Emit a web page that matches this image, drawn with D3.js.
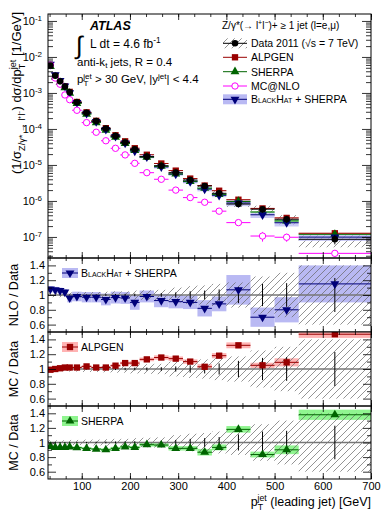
<!DOCTYPE html>
<html>
<head>
<meta charset="utf-8">
<script src="https://cdn.jsdelivr.net/npm/d3@7"></script>
<style>
  body { margin: 0; background: #fff; }
  text { font-family: "Liberation Sans", Arial, Helvetica, sans-serif; }
</style>
</head>
<body>
<svg id="chart" width="390" height="520"></svg>
<script>
// bin edges of leading jet pT [GeV]
var binEdges = [30, 40, 50, 60, 70, 80, 100, 120, 140, 160, 180, 200, 220, 250, 280, 310, 340, 370, 400, 450, 500, 550, 700];

// measured (1/sigma) dsigma/dpT [1/GeV]
var dataXsec = [5.8e-3, 3.0e-3, 2.1e-3, 1.5e-3, 1.05e-3, 5.5e-4, 2.8e-4, 1.65e-4, 1.03e-4, 6.4e-5, 4.2e-5,
                2.7e-5, 1.7e-5, 9.5e-6, 6.1e-6, 3.8e-6, 2.6e-6, 1.63e-6, 8.2e-7, 5.9e-7, 3.1e-7, 8.6e-8];
// relative stat / syst uncertainties of data
var dataStat = [0.005, 0.005, 0.006, 0.006, 0.007, 0.007, 0.008, 0.01, 0.012, 0.014, 0.016,
                0.018, 0.02, 0.025, 0.035, 0.05, 0.06, 0.075, 0.11, 0.15, 0.16, 0.23];
var dataSyst = [0.03, 0.03, 0.03, 0.03, 0.035, 0.035, 0.04, 0.04, 0.045, 0.05, 0.05,
                0.06, 0.065, 0.07, 0.1, 0.12, 0.13, 0.15, 0.17, 0.25, 0.3, 0.4];

// theory / data ratios and their relative uncertainties
var alpgenRatio = [0.99, 1.0, 1.01, 1.02, 1.02, 1.02, 1.035, 1.02, 1.02, 1.045, 1.08,
                   1.08, 1.13, 1.155, 1.14, 1.10, 1.03, 1.18, 1.32, 1.05, 1.09, 1.47];
var alpgenErr = [0.015, 0.015, 0.015, 0.015, 0.015, 0.015, 0.015, 0.015, 0.02, 0.02, 0.02,
                 0.025, 0.025, 0.03, 0.03, 0.03, 0.035, 0.035, 0.04, 0.035, 0.055, 0.05];
var sherpaRatio = [0.947, 0.933, 0.933, 0.933, 0.94, 0.93, 0.92, 0.91, 0.90, 0.92, 0.94,
                   0.933, 0.97, 0.965, 0.92, 0.92, 0.867, 0.933, 1.18, 0.835, 0.90, 1.38];
var sherpaErr = [0.015, 0.015, 0.015, 0.015, 0.015, 0.015, 0.015, 0.015, 0.02, 0.02, 0.02,
                 0.02, 0.025, 0.025, 0.03, 0.03, 0.045, 0.04, 0.045, 0.04, 0.06, 0.07];
var blackhatRatio = [1.08, 1.07, 1.06, 1.04, 0.96, 0.98, 0.97, 0.97, 0.94, 0.965, 0.96,
                     0.90, 0.98, 0.925, 0.91, 0.90, 0.82, 0.88, 1.07, 0.70, 0.80, 1.15];
var blackhatErr = [0.04, 0.04, 0.04, 0.04, 0.06, 0.065, 0.07, 0.07, 0.08, 0.08, 0.08,
                   0.1, 0.08, 0.09, 0.09, 0.09, 0.11, 0.1, 0.2, 0.13, 0.17, 0.25];

// MC@NLO is only shown in the top panel
var mcnloXsec = [6.0e-3, 2.6e-3, 1.75e-3, 8.8e-4, 6.5e-4, 3.3e-4, 1.5e-4, 8.1e-5, 4.7e-5, 2.9e-5, 1.9e-5,
                 1.11e-5, 6.1e-6, 4.0e-6, 2.0e-6, 1.24e-6, 9.2e-7, 5.2e-7, 2.5e-7, 1.06e-7, 9.8e-8, 3.5e-8];
var mcnloErr = [0.01, 0.01, 0.01, 0.01, 0.01, 0.015, 0.02, 0.02, 0.03, 0.03, 0.04,
                0.04, 0.05, 0.06, 0.07, 0.08, 0.1, 0.1, 0.12, 0.3, 0.25, 0.2];

// tick labels
var xTickLabels = [100, 200, 300, 400, 500, 600, 700];
var logTickLabels = [1e-7, 1e-6, 1e-5, 1e-4, 1e-3, 1e-2, 1e-1];
var ratioTickLabels = [0.6, 0.8, 1, 1.2, 1.4];

var FONT = '"Liberation Sans", Arial, Helvetica, sans-serif';
var svg = d3.select("#chart");
svg.append("rect").attr("width", 390).attr("height", 520).attr("fill", "#fff");
var defs = svg.append("defs");

// hatch for the data uncertainty
var hatch = defs.append("pattern").attr("id", "hatch")
    .attr("patternUnits", "userSpaceOnUse").attr("width", 7).attr("height", 7);
hatch.append("path").attr("d", "M-1,8 L8,-1 M-1,1 L1,-1 M6,8 L8,6")
    .attr("stroke", "#666").attr("stroke-width", 0.7);

var x = d3.scaleLinear().domain([30, 700]).range([48, 371]);
var yTop = d3.scaleLog().domain([2.6e-8, 0.156]).range([258, 14]);

var bins = dataXsec.map(function(v, i) {
  return { i: i, lo: binEdges[i], hi: binEdges[i + 1], c: (binEdges[i] + binEdges[i + 1]) / 2, v: v };
});

var models = {
  blackhat: { ratio: blackhatRatio, err: blackhatErr, color: "#00007a", band: "#b9b9f3", sym: "down" },
  sherpa:   { ratio: sherpaRatio,   err: sherpaErr,   color: "#006400", band: "#90f590", sym: "up" },
  alpgen:   { ratio: alpgenRatio,   err: alpgenErr,   color: "#990000", band: "#ffb3b3", sym: "square" }
};

function symbolPath(type) {
  if (type === "square") return d3.symbol().type(d3.symbolSquare).size(40)();
  return d3.symbol().type(d3.symbolTriangle).size(34)();
}
function drawMarker(g, type, color, cx, cy) {
  g.append("path").attr("d", symbolPath(type)).attr("fill", color)
    .attr("transform", "translate(" + cx + "," + cy + ")" + (type === "down" ? " rotate(180)" : ""));
}

// text with sub / superscripts: parts = [[text, "sub"|"sup"|null, dx]]
function rich(t, parts, fs, up, down) {
  var cur = 0;
  up = up || 0.42;
  down = down || 0.3;
  parts.forEach(function(p) {
    var target = p[1] === "sub" ? down * fs : p[1] === "sup" ? -up * fs : 0;
    var ts = t.append("tspan").attr("dy", target - cur).text(p[0]);
    if (p[1]) ts.attr("font-size", (0.7 * fs) + "px");
    if (p[2]) ts.attr("dx", p[2]);
    cur = target;
  });
  return t;
}

function clip(id, top, bottom) {
  defs.append("clipPath").attr("id", id).append("rect")
    .attr("x", x.range()[0]).attr("y", top)
    .attr("width", x.range()[1] - x.range()[0]).attr("height", bottom - top);
}

var minorX = d3.range(1, 22).map(function(k) { return k * 100 / 3; });

function xTicks(top, bottom, labels) {
  var gb = svg.append("g").attr("transform", "translate(0," + bottom + ")");
  gb.call(d3.axisBottom(x).tickValues(minorX).tickSize(-3).tickFormat(""));
  var gb2 = svg.append("g").attr("transform", "translate(0," + bottom + ")");
  gb2.call(d3.axisBottom(x).tickValues(xTickLabels).tickSize(-6).tickPadding(3)
    .tickFormat(labels ? d3.format("d") : ""));
  gb2.attr("font-size", 11).attr("font-family", FONT);
  var gt = svg.append("g").attr("transform", "translate(0," + top + ")");
  gt.call(d3.axisTop(x).tickValues(minorX).tickSize(-3).tickFormat(""));
  var gt2 = svg.append("g").attr("transform", "translate(0," + top + ")");
  gt2.call(d3.axisTop(x).tickValues(xTickLabels).tickSize(-6).tickFormat(""));
  [gb, gb2, gt, gt2].forEach(function(g) {
    g.select(".domain").remove();
    g.selectAll(".tick line").attr("stroke", "#000").attr("stroke-width", 0.8);
    g.selectAll(".tick text").attr("fill", "#000");
  });
}

// ---------------- top panel ----------------
clip("clipTop", 14, 258);
var gTop = svg.append("g").attr("clip-path", "url(#clipTop)");

gTop.selectAll("rect.hatch").data(bins).join("rect").attr("class", "hatch")
  .attr("x", function(d) { return x(d.lo); })
  .attr("width", function(d) { return x(d.hi) - x(d.lo); })
  .attr("y", function(d) { return yTop(d.v * (1 + dataSyst[d.i])); })
  .attr("height", function(d) { return yTop(d.v * (1 - dataSyst[d.i])) - yTop(d.v * (1 + dataSyst[d.i])); })
  .attr("fill", "url(#hatch)");

["blackhat", "sherpa", "alpgen"].forEach(function(key) {
  var m = models[key];
  gTop.append("g").selectAll("rect").data(bins).join("rect")
    .attr("x", function(d) { return x(d.lo); })
    .attr("width", function(d) { return x(d.hi) - x(d.lo); })
    .attr("y", function(d) { return yTop(d.v * (m.ratio[d.i] + m.err[d.i])); })
    .attr("height", function(d) { return yTop(d.v * (m.ratio[d.i] - m.err[d.i])) - yTop(d.v * (m.ratio[d.i] + m.err[d.i])); })
    .attr("fill", m.band).attr("fill-opacity", 0.75);
});
["blackhat", "sherpa", "alpgen"].forEach(function(key) {
  var m = models[key];
  gTop.append("g").selectAll("line").data(bins).join("line")
    .attr("x1", function(d) { return x(d.lo); }).attr("x2", function(d) { return x(d.hi); })
    .attr("y1", function(d) { return yTop(d.v * m.ratio[d.i]); })
    .attr("y2", function(d) { return yTop(d.v * m.ratio[d.i]); })
    .attr("stroke", m.color).attr("stroke-width", 1);
});
["alpgen", "sherpa", "blackhat"].forEach(function(key) {
  var m = models[key];
  var g = gTop.append("g");
  bins.forEach(function(d) { drawMarker(g, m.sym, m.color, x(d.c), yTop(d.v * m.ratio[d.i])); });
});

// MC@NLO
var gNlo = gTop.append("g");
gNlo.selectAll("line.h").data(bins).join("line").attr("class", "h")
  .attr("x1", function(d) { return x(d.lo); }).attr("x2", function(d) { return x(d.hi); })
  .attr("y1", function(d) { return yTop(mcnloXsec[d.i]); }).attr("y2", function(d) { return yTop(mcnloXsec[d.i]); })
  .attr("stroke", "#ff00ff").attr("stroke-width", 1);
gNlo.selectAll("line.v").data(bins).join("line").attr("class", "v")
  .attr("x1", function(d) { return x(d.c); }).attr("x2", function(d) { return x(d.c); })
  .attr("y1", function(d) { return yTop(mcnloXsec[d.i] * (1 + mcnloErr[d.i])); })
  .attr("y2", function(d) { return yTop(mcnloXsec[d.i] * (1 - mcnloErr[d.i])); })
  .attr("stroke", "#ff00ff").attr("stroke-width", 1);
gNlo.selectAll("circle").data(bins).join("circle")
  .attr("cx", function(d) { return x(d.c); }).attr("cy", function(d) { return yTop(mcnloXsec[d.i]); })
  .attr("r", 3.2).attr("fill", "#fff").attr("stroke", "#ff00ff").attr("stroke-width", 1);

// data
var gData = gTop.append("g");
gData.selectAll("line.h").data(bins).join("line").attr("class", "h")
  .attr("x1", function(d) { return x(d.lo); }).attr("x2", function(d) { return x(d.hi); })
  .attr("y1", function(d) { return yTop(d.v); }).attr("y2", function(d) { return yTop(d.v); })
  .attr("stroke", "#000").attr("stroke-width", 1);
gData.selectAll("line.v").data(bins).join("line").attr("class", "v")
  .attr("x1", function(d) { return x(d.c); }).attr("x2", function(d) { return x(d.c); })
  .attr("y1", function(d) { return yTop(d.v * (1 + dataStat[d.i])) - 1; })
  .attr("y2", function(d) { return yTop(d.v * (1 - dataStat[d.i])) + 1; })
  .attr("stroke", "#000").attr("stroke-width", 1);
gData.selectAll("circle").data(bins).join("circle")
  .attr("cx", function(d) { return x(d.c); }).attr("cy", function(d) { return yTop(d.v); })
  .attr("r", 3.3).attr("fill", "#000");

// top panel axes
var minorLog = [];
for (var e = -8; e <= -1; e++) {
  for (var k = 2; k < 10; k++) {
    var mv = k * Math.pow(10, e);
    if (mv > yTop.domain()[0] && mv < yTop.domain()[1]) minorLog.push(mv);
  }
}
var gyl = svg.append("g").attr("transform", "translate(48,0)")
  .call(d3.axisLeft(yTop).tickValues(minorLog).tickSize(-5).tickFormat(""));
var gyr = svg.append("g").attr("transform", "translate(371,0)")
  .call(d3.axisRight(yTop).tickValues(minorLog).tickSize(-5).tickFormat(""));
var gyr2 = svg.append("g").attr("transform", "translate(371,0)")
  .call(d3.axisRight(yTop).tickValues(logTickLabels).tickSize(-9).tickFormat(""));
var gyl2 = svg.append("g").attr("transform", "translate(48,0)")
  .call(d3.axisLeft(yTop).tickValues(logTickLabels).tickSize(-9).tickPadding(6).tickFormat(function() { return ""; }));
gyl2.attr("font-size", 11).attr("font-family", FONT);
gyl2.selectAll(".tick text").each(function(d) {
  var t = d3.select(this);
  t.append("tspan").text("10");
  t.append("tspan").attr("dy", "-0.45em").attr("font-size", "8px").text("-" + Math.round(-Math.log10(d)));
});
[gyl, gyr, gyr2, gyl2].forEach(function(g) {
  g.select(".domain").remove();
  g.selectAll(".tick line").attr("stroke", "#000").attr("stroke-width", 0.8);
  g.selectAll(".tick text").attr("fill", "#000");
});
xTicks(14, 258, false);
svg.append("rect").attr("x", 48).attr("y", 14).attr("width", 323).attr("height", 244)
  .attr("fill", "none").attr("stroke", "#000").attr("stroke-width", 1);

// y title of top panel
rich(svg.append("text").attr("transform", "translate(21,12) rotate(-90)")
  .attr("text-anchor", "end").attr("font-size", "13px"),
  [["(1/σ"], ["Z/γ* → l⁺l⁻", "sub"], [") dσ/dp"], ["T", "sub"], ["jet", "sup", -5.6], [" [1/GeV]"]], 13);

// labels
svg.append("text").attr("x", 90).attr("y", 30).attr("font-size", "12.5px")
  .attr("font-weight", "bold").attr("font-style", "italic").text("ATLAS");
svg.append("text").attr("x", 76).attr("y", 54).attr("font-size", "25px").text("∫");
rich(svg.append("text").attr("x", 90).attr("y", 48).attr("font-size", "12px"),
  [["L dt = 4.6 fb"], ["-1", "sup"]], 12);
rich(svg.append("text").attr("x", 77).attr("y", 66).attr("font-size", "11.5px"),
  [["anti-k"], ["t", "sub"], [" jets, R = 0.4"]], 11.5, 0.42, 0.2);
rich(svg.append("text").attr("x", 77).attr("y", 83).attr("font-size", "11.5px"),
  [["p"], ["T", "sub"], ["jet", "sup", -5], [" > 30 GeV, |y"], ["jet", "sup"], ["| < 4.4"]], 11.5, 0.36, 0.3);

rich(svg.append("text").attr("x", 222).attr("y", 29).attr("font-size", "10px"),
  [["Z/γ*(→ l"], ["+", "sup"], ["l"], ["−", "sup"], [")+ ≥ 1 jet (l=e,μ)"]], 10);

// legend
var leg = svg.append("g");
var legY = [43.3, 57.3, 71.7, 86, 99.3];
leg.append("rect").attr("x", 223).attr("y", legY[0] - 5).attr("width", 24).attr("height", 10).attr("fill", "url(#hatch)");
leg.append("line").attr("x1", 223).attr("x2", 247).attr("y1", legY[0]).attr("y2", legY[0]).attr("stroke", "#000");
leg.append("circle").attr("cx", 235).attr("cy", legY[0]).attr("r", 3.3).attr("fill", "#000");
leg.append("line").attr("x1", 223).attr("x2", 247).attr("y1", legY[1]).attr("y2", legY[1]).attr("stroke", models.alpgen.color);
drawMarker(leg, "square", models.alpgen.color, 235, legY[1]);
leg.append("line").attr("x1", 223).attr("x2", 247).attr("y1", legY[2]).attr("y2", legY[2]).attr("stroke", models.sherpa.color);
drawMarker(leg, "up", models.sherpa.color, 235, legY[2]);
leg.append("line").attr("x1", 223).attr("x2", 247).attr("y1", legY[3]).attr("y2", legY[3]).attr("stroke", "#ff00ff");
leg.append("circle").attr("cx", 235).attr("cy", legY[3]).attr("r", 3.2).attr("fill", "#fff").attr("stroke", "#ff00ff");
leg.append("rect").attr("x", 223).attr("y", legY[4] - 5).attr("width", 24).attr("height", 10).attr("fill", models.blackhat.band);
leg.append("line").attr("x1", 223).attr("x2", 247).attr("y1", legY[4]).attr("y2", legY[4]).attr("stroke", models.blackhat.color);
drawMarker(leg, "down", models.blackhat.color, 235, legY[4]);
var legText = ["Data 2011 (√s = 7 TeV)", "ALPGEN", "SHERPA", "MC@NLO", "BlackHat + SHERPA"];
legText.forEach(function(s, i) {
  var t = leg.append("text").attr("x", 251).attr("y", legY[i] + 3.8).attr("font-size", "10.5px").text(s);
  if (i === 4) t.attr("font-variant", "small-caps").text("BlackHat").append("tspan").attr("font-variant", "normal").text(" + SHERPA");
});

// ---------------- ratio panels ----------------
var panels = [
  { key: "blackhat", top: 258, bottom: 332, title: "NLO / Data", legend: "BlackHat", legend2: " + SHERPA" },
  { key: "alpgen",   top: 332, bottom: 406, title: "MC / Data",  legend: "ALPGEN" },
  { key: "sherpa",   top: 406, bottom: 479, title: "MC / Data",  legend: "SHERPA" }
];

panels.forEach(function(p, pi) {
  var m = models[p.key];
  var y = d3.scaleLinear().domain([0.5, 1.5]).range([p.bottom, p.top]);
  var cid = "clipR" + pi;
  clip(cid, p.top, p.bottom);
  var g = svg.append("g").attr("clip-path", "url(#" + cid + ")");

  g.append("g").selectAll("rect").data(bins).join("rect")
    .attr("x", function(d) { return x(d.lo); })
    .attr("width", function(d) { return x(d.hi) - x(d.lo); })
    .attr("y", function(d) { return y(m.ratio[d.i] + m.err[d.i]); })
    .attr("height", function(d) { return y(m.ratio[d.i] - m.err[d.i]) - y(m.ratio[d.i] + m.err[d.i]); })
    .attr("fill", m.band);
  g.append("g").selectAll("rect").data(bins).join("rect")
    .attr("x", function(d) { return x(d.lo); })
    .attr("width", function(d) { return x(d.hi) - x(d.lo); })
    .attr("y", function(d) { return y(1 + dataSyst[d.i]); })
    .attr("height", function(d) { return y(1 - dataSyst[d.i]) - y(1 + dataSyst[d.i]); })
    .attr("fill", "url(#hatch)");
  g.append("line").attr("x1", x(30)).attr("x2", x(700)).attr("y1", y(1)).attr("y2", y(1))
    .attr("stroke", "#777").attr("stroke-width", 1.5);
  g.append("g").selectAll("line").data(bins).join("line")
    .attr("x1", function(d) { return x(d.c); }).attr("x2", function(d) { return x(d.c); })
    .attr("y1", function(d) { return y(1 + dataStat[d.i]); })
    .attr("y2", function(d) { return y(1 - dataStat[d.i]); })
    .attr("stroke", "#000").attr("stroke-width", 1);
  g.append("g").selectAll("line").data(bins).join("line")
    .attr("x1", function(d) { return x(d.lo); }).attr("x2", function(d) { return x(d.hi); })
    .attr("y1", function(d) { return y(m.ratio[d.i]); }).attr("y2", function(d) { return y(m.ratio[d.i]); })
    .attr("stroke", m.color).attr("stroke-width", 1);
  var gm = g.append("g");
  bins.forEach(function(d) { drawMarker(gm, m.sym, m.color, x(d.c), y(m.ratio[d.i])); });

  // axes
  var minorR = [0.7, 0.9, 1.1, 1.3];
  var ga = svg.append("g").attr("transform", "translate(48,0)")
    .call(d3.axisLeft(y).tickValues(ratioTickLabels).tickSize(-8).tickPadding(3)
      .tickFormat(function(d) { return d === 1 ? "1" : d3.format(".1f")(d); }));
  ga.attr("font-size", 11).attr("font-family", FONT);
  var gb = svg.append("g").attr("transform", "translate(48,0)")
    .call(d3.axisLeft(y).tickValues(minorR).tickSize(-4).tickFormat(""));
  var gc = svg.append("g").attr("transform", "translate(371,0)")
    .call(d3.axisRight(y).tickValues(ratioTickLabels).tickSize(-8).tickFormat(""));
  var gd = svg.append("g").attr("transform", "translate(371,0)")
    .call(d3.axisRight(y).tickValues(minorR).tickSize(-4).tickFormat(""));
  [ga, gb, gc, gd].forEach(function(a) {
    a.select(".domain").remove();
    a.selectAll(".tick line").attr("stroke", "#000").attr("stroke-width", 0.8);
    a.selectAll(".tick text").attr("fill", "#000");
  });
  xTicks(p.top, p.bottom, pi === 2);
  svg.append("rect").attr("x", 48).attr("y", p.top).attr("width", 323).attr("height", p.bottom - p.top)
    .attr("fill", "none").attr("stroke", "#000").attr("stroke-width", 1);

  svg.append("text").attr("transform", "translate(18," + ((p.top + p.bottom) / 2) + ") rotate(-90)")
    .attr("text-anchor", "middle").attr("font-size", "12.5px").text(p.title);

  // panel legend
  var ly = p.top + 15;
  svg.append("rect").attr("x", 62).attr("y", ly - 5).attr("width", 16).attr("height", 10).attr("fill", m.band);
  svg.append("line").attr("x1", 62).attr("x2", 78).attr("y1", ly).attr("y2", ly).attr("stroke", m.color);
  drawMarker(svg, m.sym, m.color, 70, ly);
  var lt = svg.append("text").attr("x", 81).attr("y", ly + 3.8).attr("font-size", "10.5px");
  if (p.legend2) {
    lt.append("tspan").attr("font-variant", "small-caps").text(p.legend);
    lt.append("tspan").text(p.legend2);
  } else {
    lt.text(p.legend);
  }
});

// x title
rich(svg.append("text").attr("x", 371).attr("y", 506).attr("text-anchor", "end").attr("font-size", "12.5px"),
  [["p"], ["T", "sub"], ["jet", "sup", -5.5], [" (leading jet) [GeV]"]], 12.5);
</script>
</body>
</html>
